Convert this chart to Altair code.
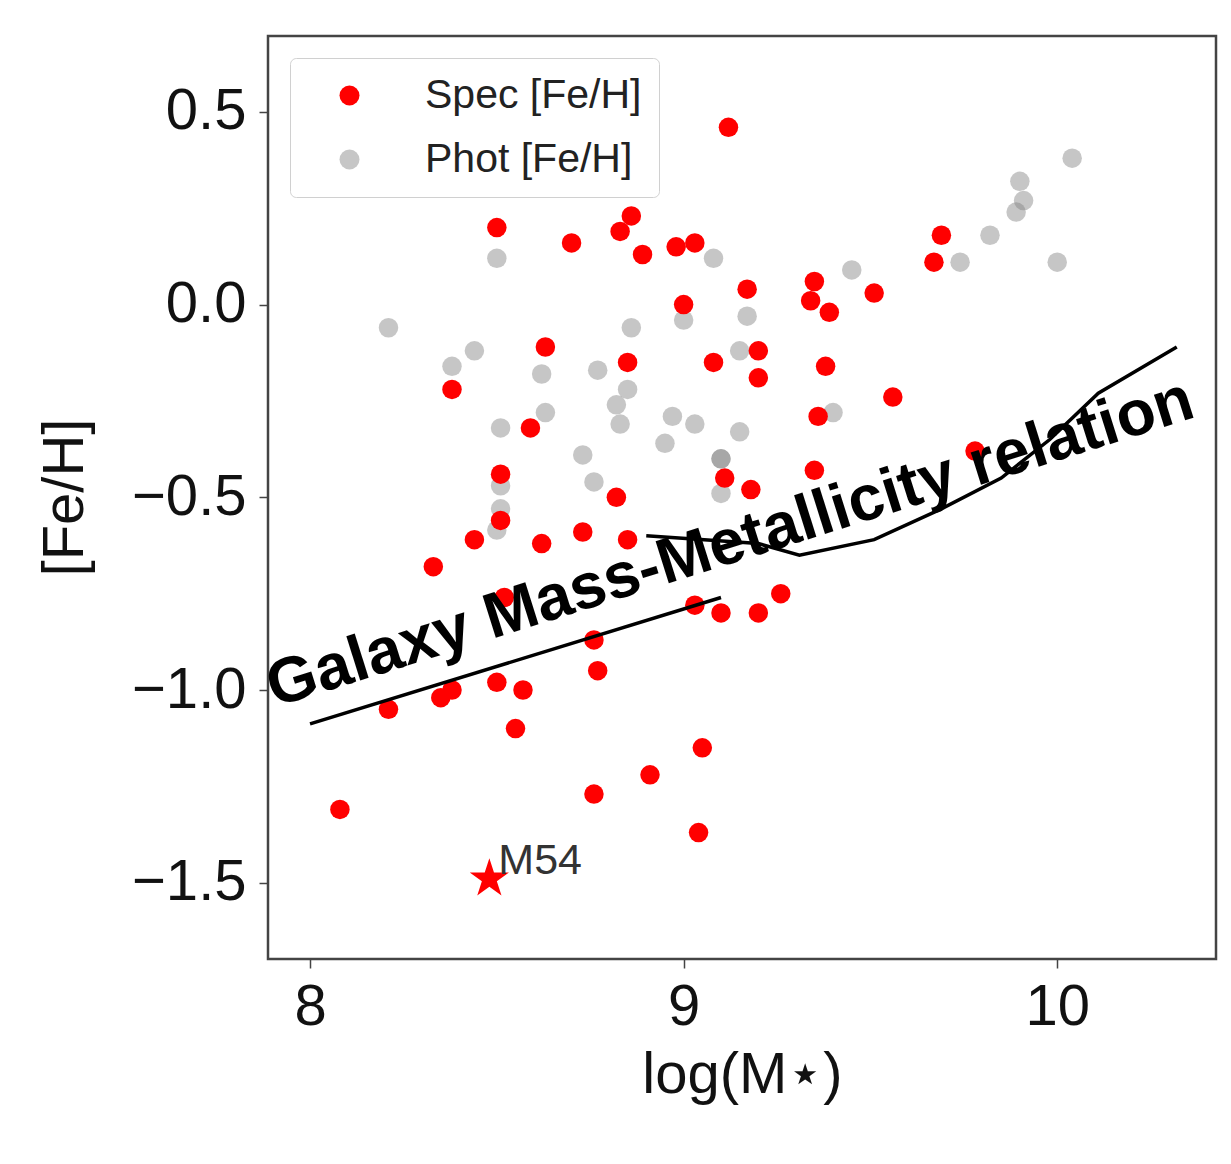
import altair as alt
import pandas as pd

# Spectroscopic [Fe/H]
spec_x = [9.12, 8.50, 8.86, 8.83, 8.70, 8.89, 8.98, 9.03, 9.69, 9.67,
          9.00, 9.17, 9.35, 9.34, 9.39, 9.51, 8.63, 9.08, 9.20, 9.38,
          9.20, 8.85, 8.38, 9.56, 9.36, 8.59, 8.51, 9.11, 9.35, 9.18,
          8.82, 8.51, 8.73, 8.62, 8.85, 8.44, 9.78, 8.33, 8.52, 9.03,
          9.10, 9.20, 9.26, 8.76, 8.77, 8.38, 8.35, 8.50, 8.57, 8.21,
          8.55, 9.05, 8.91, 8.76, 8.08, 9.04]
spec_y = [0.46, 0.20, 0.23, 0.19, 0.16, 0.13, 0.15, 0.16, 0.18, 0.11,
          0.00, 0.04, 0.06, 0.01, -0.02, 0.03, -0.11, -0.15, -0.12, -0.16,
          -0.19, -0.15, -0.22, -0.24, -0.29, -0.32, -0.44, -0.45, -0.43, -0.48,
          -0.50, -0.56, -0.59, -0.62, -0.61, -0.61, -0.38, -0.68, -0.76, -0.78,
          -0.80, -0.80, -0.75, -0.87, -0.95, -1.00, -1.02, -0.98, -1.00, -1.05,
          -1.10, -1.15, -1.22, -1.27, -1.31, -1.37]

# Photometric [Fe/H]
phot_x = [8.50, 9.08, 8.21, 8.86, 9.00, 8.44, 8.38, 8.62, 8.77, 8.85,
          8.82, 8.83, 8.63, 8.51, 8.97, 9.03, 8.95, 8.73, 8.76, 8.51,
          8.51, 8.50, 9.10, 9.10, 9.10, 9.15, 9.15, 9.17, 9.40, 9.45,
          9.74, 9.82, 10.00, 10.04, 9.90, 9.91, 9.89]
phot_y = [0.12, 0.12, -0.06, -0.06, -0.04, -0.12, -0.16, -0.18, -0.17, -0.22,
          -0.26, -0.31, -0.28, -0.32, -0.29, -0.31, -0.36, -0.39, -0.46, -0.47,
          -0.53, -0.585, -0.40, -0.40, -0.49, -0.12, -0.33, -0.03, -0.28, 0.09,
          0.11, 0.18, 0.11, 0.38, 0.32, 0.27, 0.24]

# M54
m54_x = [8.48]
m54_y = [-1.49]
m54_label = ["M54"]

# Galaxy mass-metallicity relation (two pieces)
mzr_seg = ["a", "a",
           "b", "b", "b", "b", "b", "b", "b", "b", "b"]
mzr_x = [8.00, 9.10,
         8.90, 9.20, 9.31, 9.51, 9.69, 9.85, 9.98, 10.11, 10.32]
mzr_y = [-1.088, -0.76,
         -0.60, -0.62, -0.65, -0.61, -0.53, -0.45, -0.35, -0.23, -0.11]

ann_text = ["Galaxy Mass-Metallicity relation"]
ann_x = [9.14]
ann_y = [-0.668]

x_ticks = [8, 9, 10]
y_ticks = [-1.5, -1.0, -0.5, 0.0, 0.5]
x_dom = [7.8875, 10.425]
y_dom = [-1.698, 0.697]

SPEC = "Spec [Fe/H]"
PHOT = "Phot [Fe/H]"

pts = pd.DataFrame({
    "x": phot_x + spec_x,
    "y": phot_y + spec_y,
    "kind": [PHOT] * len(phot_x) + [SPEC] * len(spec_x),
    "order": [0] * len(phot_x) + [1] * len(spec_x),
})
m54 = pd.DataFrame({"x": m54_x, "y": m54_y, "label": m54_label})
mzr = pd.DataFrame({"x": mzr_x, "y": mzr_y, "seg": mzr_seg})
ann = pd.DataFrame({"x": ann_x, "y": ann_y, "t": ann_text})

FONT = "Liberation Sans"

xs = alt.Scale(domain=x_dom, nice=False, zero=False)
ys = alt.Scale(domain=y_dom, nice=False, zero=False)

xax = alt.Axis(values=x_ticks, format="d", title="log(M⋆)", grid=False, domain=False,
               labelFontSize=58, titleFontSize=58, titleFontWeight="normal",
               labelFont=FONT, titleFont=FONT, labelColor="#111", titleColor="#111",
               tickSize=9, tickColor="#444", tickWidth=1.5, labelPadding=10,
               titleY=87, titleBaseline="top")
yax = alt.Axis(values=y_ticks, format=".1f", title="[Fe/H]", grid=False, domain=False,
               labelFontSize=58, titleFontSize=58, titleFontWeight="normal",
               labelFont=FONT, titleFont=FONT, labelColor="#111", titleColor="#111",
               tickSize=9, tickColor="#444", tickWidth=1.5, labelPadding=13,
               titleX=-203, titleY=461, titleAngle=-90, titleAlign="center",
               titleBaseline="middle")

legend = alt.Legend(title=None, orient="none", legendX=22, legendY=22,
                    labelFontSize=41, labelFont=FONT, labelColor="#222", labelLimit=500,
                    symbolSize=400, symbolType="circle", symbolStrokeWidth=0,
                    padding=17, rowPadding=22, symbolOffset=22, labelOffset=55,
                    strokeColor="#d0d0d0", fillColor="white", cornerRadius=6)

points = alt.Chart(pts).mark_circle(size=380).encode(
    x=alt.X("x:Q", scale=xs, axis=xax),
    y=alt.Y("y:Q", scale=ys, axis=yax),
    color=alt.Color("kind:N", scale=alt.Scale(domain=[SPEC, PHOT], range=["#ff0000", "#808080"]),
                    legend=legend),
    opacity=alt.Opacity("kind:N", scale=alt.Scale(domain=[SPEC, PHOT], range=[1.0, 0.45]),
                        legend=legend),
    order=alt.Order("order:Q"),
)

star_path = ("M0,-1L0.2245,-0.309L0.951,-0.309L0.363,0.118L0.588,0.809L0,0.382"
             "L-0.588,0.809L-0.363,0.118L-0.951,-0.309L-0.2245,-0.309Z")
star = alt.Chart(m54).mark_point(shape=star_path, size=1700, filled=True,
                                 color="#ff0000", opacity=1).encode(
    x=alt.X("x:Q", scale=xs), y=alt.Y("y:Q", scale=ys))
star_lbl = alt.Chart(m54).mark_text(align="left", baseline="alphabetic", dx=9, dy=-5,
                                    fontSize=43, font=FONT, color="#333").encode(
    x=alt.X("x:Q", scale=xs), y=alt.Y("y:Q", scale=ys), text="label:N")

line = alt.Chart(mzr).mark_line(color="black", strokeWidth=3.5).encode(
    x=alt.X("x:Q", scale=xs), y=alt.Y("y:Q", scale=ys), detail="seg:N")

text = alt.Chart(ann).mark_text(align="center", baseline="alphabetic", angle=342.5,
                                fontSize=64, fontWeight="bold", font=FONT,
                                color="black").encode(
    x=alt.X("x:Q", scale=xs), y=alt.Y("y:Q", scale=ys), text="t:N")

chart = alt.layer(points, star, star_lbl, line, text).properties(
    width=948, height=923,
    autosize=alt.AutoSizeParams(type="none"),
    padding={"left": 260, "top": 28, "right": 5, "bottom": 175},
).configure(background="white").configure_view(stroke="#444", strokeWidth=2.5)

chart.save("out.html", embed_options={"renderer": "svg", "actions": False})
